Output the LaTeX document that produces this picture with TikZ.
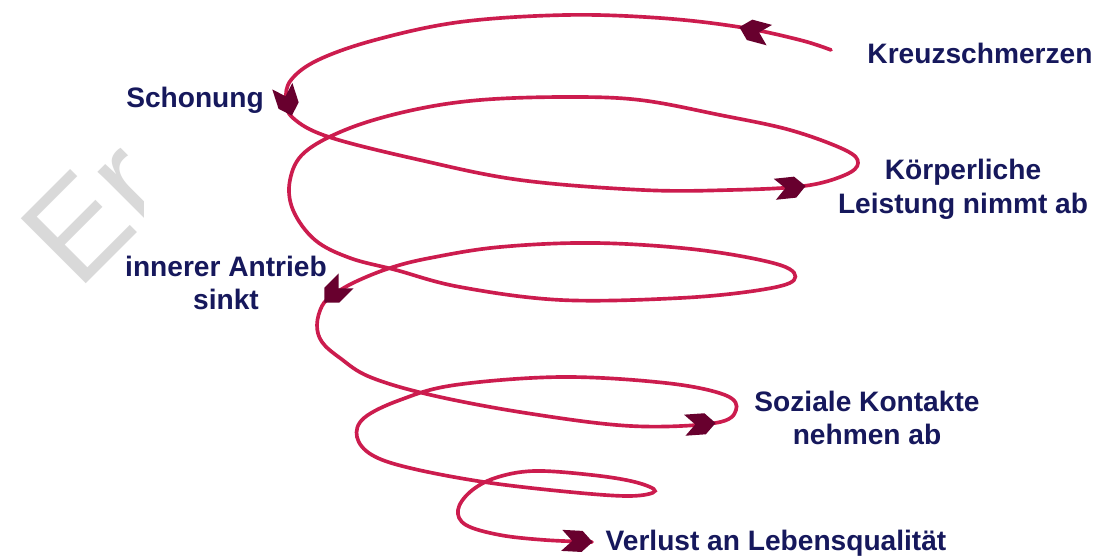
\documentclass[tikz,border=0pt]{standalone}
\usepackage{fontspec}
\setmainfont{Liberation Sans}
\usetikzlibrary{shapes.symbols}
\definecolor{spiralred}{RGB}{204,28,78}
\definecolor{tipred}{RGB}{104,0,46}
\definecolor{labelblue}{RGB}{22,24,92}
\begin{document}
\begin{tikzpicture}[x=0.025cm,y=-0.025cm,
  spiral/.style={spiralred,line width=2.6pt,line cap=round},
  tiphead/.style={signal,signal to=east,signal from=west,fill=tipred,draw=none,
    minimum width=22pt,minimum height=15pt,inner sep=0pt,anchor=east},
  lbl/.style={text=labelblue,font=\bfseries\fontsize{20}{24}\selectfont,align=center,inner sep=0pt},
  stamptext/.style={text=gray!30,font=\fontsize{95}{95}\selectfont,rotate=45,anchor=base west,inner sep=0pt}]
\useasboundingbox[fill=white] (0,0) rectangle (1095,558);
\begin{scope}
\clip (0,0) rectangle (143,558);
\node[stamptext] (stamp) at (78,292) {Er};
\end{scope}
\draw[spiral] plot[smooth,tension=0.6] coordinates {
  (831,50) (800,40) (739,27) (660,18) (566,15) (460,22) (375,40) (318,60)
  (291,80) (286,100) (293,118) (329,137) (420,160) (520,180) (643,190)
  (730,190) (804,186) (845,175) (858,163) (845,150) (790,130) (720,115)
  (640,100) (566,97) (480,100) (413,110) (350,128) (305,152) (290,180)
  (293,210) (315,240) (350,258) (396,270) (460,287) (561,300) (680,298)
  (760,290) (794,280) (780,265) (700,250) (596,243) (500,247) (430,258)
  (390,268) (355,282) (333,295) (322,306) (317,325) (322,342) (340,358)
  (370,377) (431,395) (526,413) (631,426) (715,423) (736,410) (725,395)
  (666,383) (561,377) (455,385) (400,400) (364,418) (357,437) (372,455)
  (410,468) (484,482) (570,492) (630,496) (655,491) (635,482) (592,475)
  (534,471) (495,478) (470,492) (458,510) (466,525) (500,535) (545,540)
  (592,542)};
\node[tiphead,rotate=165] (tipa) at (739,27) {};
\node[tiphead,rotate=-72] (tipb) at (292,116) {};
\node[tiphead,rotate=6] (tipc) at (806,186) {};
\node[tiphead,rotate=225] (tipd) at (324,303) {};
\node[tiphead,rotate=4] (tipe) at (716,423) {};
\node[tiphead,rotate=-3] (tipf) at (593,542) {};
\node[lbl] (kreuz) at (980,53) {Kreuzschmerzen};
\node[lbl] (schonung) at (195,100) {Schonung};
\node[lbl] (leistung) at (963,189) {Körperliche\\Leistung nimmt ab};
\node[lbl] (antrieb) at (226,283) {innerer Antrieb\\sinkt};
\node[lbl] (kontakte) at (867,418) {Soziale Kontakte\\nehmen ab};
\node[lbl] (verlust) at (776,543) {Verlust an Lebensqualität};
\end{tikzpicture}
\end{document}
